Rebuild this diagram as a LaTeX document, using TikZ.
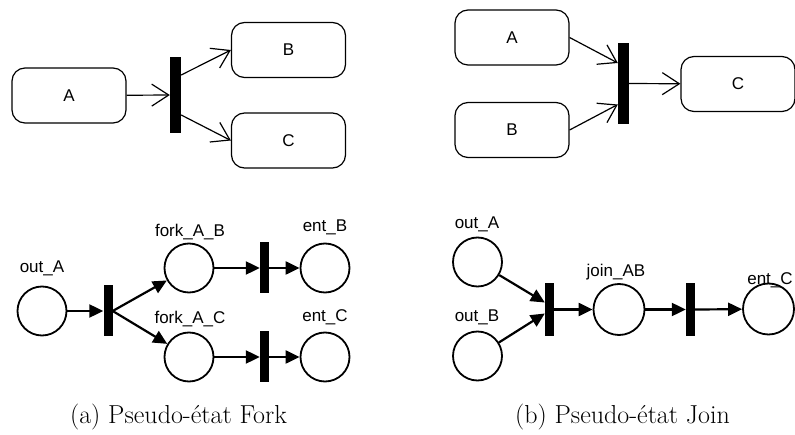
\documentclass[tikz,border=0pt]{standalone}
\usepackage{fontspec}
\setsansfont{Liberation Sans}
\usetikzlibrary{arrows.meta}
\tikzset{
  umlstate/.style={draw, line width=1.2pt, rounded corners=13pt, minimum width=114pt, minimum height=55pt, inner sep=0pt, font=\sffamily\fontsize{17}{20}\selectfont},
  umlbar/.style={fill=black, draw=none, minimum width=11pt, inner sep=0pt},
  umlarrow/.style={line width=1.2pt, -{Straight Barb[length=17pt,width=22pt,line width=1.2pt]}},
  place/.style={circle, draw, line width=1.8pt, minimum size=49pt, inner sep=0pt},
  pbar/.style={fill=black, draw=none, minimum width=9pt, minimum height=51pt, inner sep=0pt},
  parrow/.style={line width=2.2pt, -{Triangle[length=14pt,width=13pt]}},
  plabel/.style={font=\sffamily\fontsize{17}{20}\selectfont, inner sep=0pt},
  caption/.style={font=\fontsize{26}{30}\selectfont, inner sep=0pt, anchor=base}
}
\begin{document}
\begin{tikzpicture}[x=1pt,y=-1pt]
\useasboundingbox (0,0) rectangle (795,435);
% ---- (a) top: UML fork
\node[umlstate] (A1) at (69,95.5) {A};
\node[umlbar, minimum height=76pt] (bar1) at (175.5,95) {};
\node[umlstate] (B1) at (288.5,50) {B};
\node[umlstate] (C1) at (288.5,140.5) {C};
\draw[umlarrow] (A1) -- (bar1);
\draw[umlarrow] ([yshift=20pt]bar1.east) -- (B1.west);
\draw[umlarrow] ([yshift=-20pt]bar1.east) -- (C1.west);
% ---- (b) top: UML join
\node[umlstate] (A2) at (512,37.5) {A};
\node[umlstate] (B2) at (512,130) {B};
\node[umlbar, minimum height=81pt] (bar2) at (623.5,83.5) {};
\node[umlstate] (C2) at (738,84) {C};
\draw[umlarrow] (A2.east) -- ([yshift=20.5pt]bar2.west);
\draw[umlarrow] (B2.east) -- ([yshift=-21pt]bar2.west);
\draw[umlarrow] (bar2) -- (C2);
% ---- (a) bottom: Petri fork
\node[place] (oA) at (42,311) {};
\node[plabel] (loA) at (42,268) {out\_A};
\node[pbar] (pb1) at (108,311) {};
\node[place] (fAB) at (189,268) {};
\node[plabel] (lfAB) at (190,232) {fork\_A\_B};
\node[place] (fAC) at (189,357) {};
\node[plabel] (lfAC) at (190,319) {fork\_A\_C};
\node[pbar] (pb2) at (264.5,268) {};
\node[pbar] (pb3) at (264.5,357) {};
\node[place] (eB) at (325,268) {};
\node[plabel] (leB) at (325,227) {ent\_B};
\node[place] (eC) at (325,357) {};
\node[plabel] (leC) at (325,317) {ent\_C};
\draw[parrow] (oA) -- (pb1);
\draw[parrow] (pb1.east) -- (fAB);
\draw[parrow] (pb1.east) -- (fAC);
\draw[parrow] (fAB) -- (pb2.west);
\draw[parrow] (pb2.east) -- (eB);
\draw[parrow] (fAC) -- (pb3.west);
\draw[parrow] (pb3.east) -- (eC);
% ---- (b) bottom: Petri join
\node[place] (jA) at (477.5,262) {};
\node[plabel] (ljA) at (477,224) {out\_A};
\node[place] (jB) at (477.5,356) {};
\node[plabel] (ljB) at (477,317) {out\_B};
\node[pbar, minimum height=53pt] (jb1) at (549.5,309.5) {};
\node[place, minimum size=51pt] (jAB) at (619,309.5) {};
\node[plabel] (ljAB) at (616,272) {join\_AB};
\node[pbar, minimum height=53pt] (jb2) at (690.5,309.5) {};
\node[place, minimum size=51pt] (jC) at (768.5,309) {};
\node[plabel] (ljC) at (770,280) {ent\_C};
\draw[parrow] (jA) -- ([yshift=7pt]jb1.west);
\draw[parrow] (jB) -- ([yshift=-4pt]jb1.west);
\draw[parrow] (jb1.east) -- (jAB);
\draw[parrow] (jAB) -- (jb2.west);
\draw[parrow] (jb2.east) -- (jC);
% ---- captions
\node[caption] (capa) at (178.5,423.5) {(a) Pseudo-état Fork};
\node[caption] (capb) at (622.5,423.5) {(b) Pseudo-état Join};
\end{tikzpicture}
\end{document}
